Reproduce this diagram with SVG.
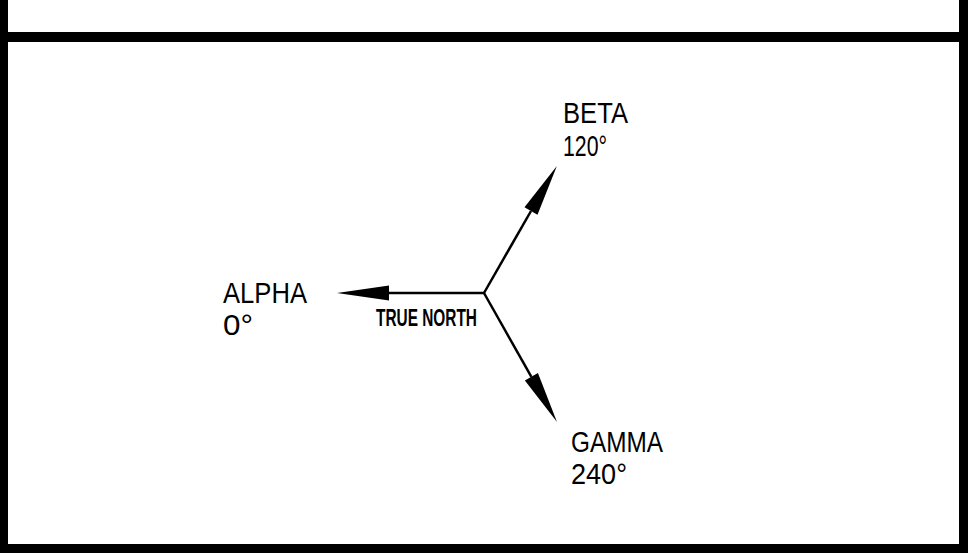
<svg xmlns="http://www.w3.org/2000/svg" width="968" height="553" viewBox="0 0 968 553">
<style>
.lbl{font-family:"Liberation Sans",Arial,sans-serif;font-size:30px;fill:#000}
.tn{font-family:"Liberation Sans",Arial,sans-serif;font-size:24px;font-weight:bold;fill:#000}
.ln{stroke:#000;stroke-width:2.5;fill:none}
</style>
<defs>
<marker id="ah" viewBox="-53 -8 54 16" markerWidth="54" markerHeight="16" refX="-52" refY="0" markerUnits="userSpaceOnUse" orient="auto">
<path d="M0,0 L-52,-7.5 L-52,7.5 Z" fill="#000"/>
</marker>
</defs>
<rect width="968" height="553" fill="#fff"/>
<g id="frame" fill="#000">
<rect x="0" y="0" width="8" height="553"/>
<rect x="959" y="0" width="9" height="553"/>
<rect x="0" y="32" width="968" height="10"/>
<rect x="0" y="544" width="968" height="9"/>
</g>
<g id="connectors">
<line class="ln" x1="484" y1="293" x2="389" y2="293" marker-end="url(#ah)"/>
<line class="ln" x1="484" y1="293" x2="531" y2="211" marker-end="url(#ah)"/>
<line class="ln" x1="484" y1="293" x2="531.4" y2="376.8" marker-end="url(#ah)"/>
</g>
<g id="alpha">
<text class="lbl" x="223" y="303" textLength="84" lengthAdjust="spacingAndGlyphs">ALPHA</text>
<text class="lbl" x="223" y="335" textLength="30" lengthAdjust="spacingAndGlyphs">0°</text>
</g>
<g id="true-north">
<text class="tn" x="376" y="326" textLength="101" lengthAdjust="spacingAndGlyphs">TRUE NORTH</text>
</g>
<g id="beta">
<text class="lbl" x="563" y="123" textLength="65" lengthAdjust="spacingAndGlyphs">BETA</text>
<text class="lbl" x="563" y="156" textLength="44" lengthAdjust="spacingAndGlyphs">120°</text>
</g>
<g id="gamma">
<text class="lbl" x="571" y="452" textLength="92" lengthAdjust="spacingAndGlyphs">GAMMA</text>
<text class="lbl" x="571" y="484" textLength="56" lengthAdjust="spacingAndGlyphs">240°</text>
</g>
</svg>
